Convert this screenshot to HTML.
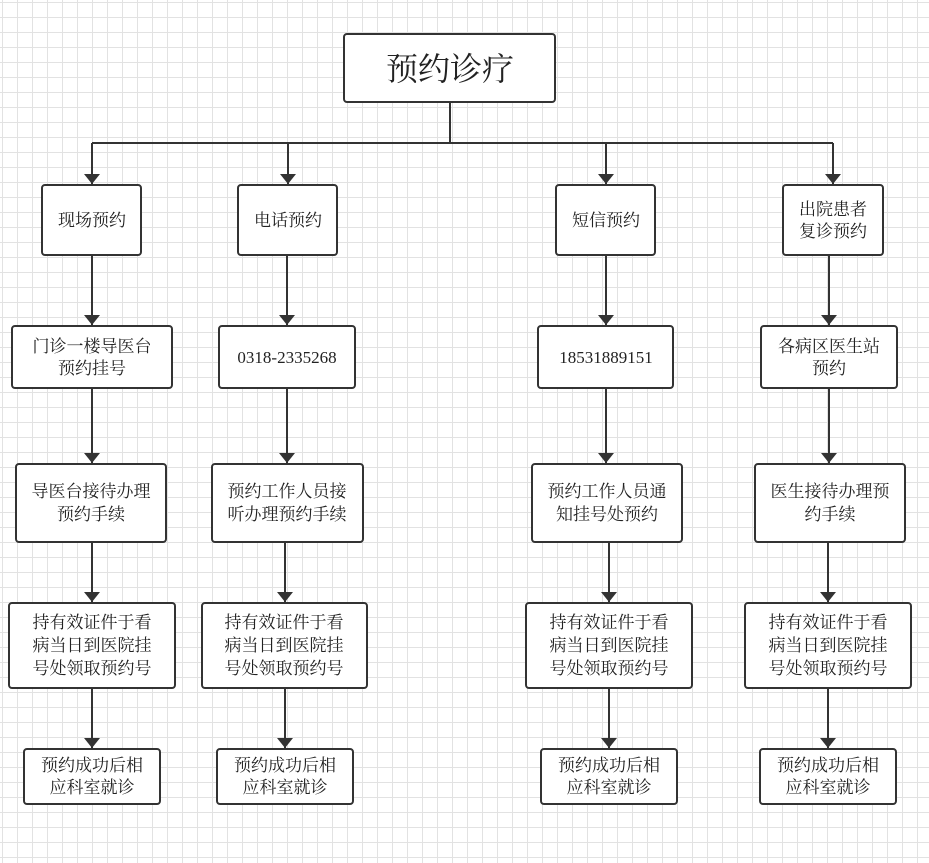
<!DOCTYPE html>
<html><head><meta charset="utf-8"><style>
html,body{margin:0;padding:0;background:#fff;}
svg{display:block}
text{font-family:"Liberation Serif","Noto Serif CJK SC",serif;fill:#222;text-anchor:middle;}
</style></head><body>
<svg width="929" height="863" viewBox="0 0 929 863" xmlns="http://www.w3.org/2000/svg">
<defs>
<pattern id="g" x="2" y="2" width="15" height="15" patternUnits="userSpaceOnUse">
<path d="M0.5 0V15M0 0.5H15" stroke="#e2e2e2" stroke-width="1" fill="none"/>
</pattern>
<marker id="a" viewBox="0 0 10 16" refX="10" refY="8" markerWidth="11" markerHeight="16" markerUnits="userSpaceOnUse" orient="auto">
<path d="M0 0L10 8L0 16Z" fill="#333"/>
</marker>
</defs>
<rect width="929" height="863" fill="url(#g)"/>
<g fill="#fff" stroke="#333" stroke-width="2">
<rect x="344" y="34" width="211" height="68" rx="3"/>
<rect x="42" y="185" width="99" height="70" rx="3"/>
<rect x="238" y="185" width="99" height="70" rx="3"/>
<rect x="556" y="185" width="99" height="70" rx="3"/>
<rect x="783" y="185" width="100" height="70" rx="3"/>
<rect x="12" y="326" width="160" height="62" rx="3"/>
<rect x="219" y="326" width="136" height="62" rx="3"/>
<rect x="538" y="326" width="135" height="62" rx="3"/>
<rect x="761" y="326" width="136" height="62" rx="3"/>
<rect x="16" y="464" width="150" height="78" rx="3"/>
<rect x="212" y="464" width="151" height="78" rx="3"/>
<rect x="532" y="464" width="150" height="78" rx="3"/>
<rect x="755" y="464" width="150" height="78" rx="3"/>
<rect x="9" y="603" width="166" height="85" rx="3"/>
<rect x="202" y="603" width="165" height="85" rx="3"/>
<rect x="526" y="603" width="166" height="85" rx="3"/>
<rect x="745" y="603" width="166" height="85" rx="3"/>
<rect x="24" y="749" width="136" height="55" rx="3"/>
<rect x="217" y="749" width="136" height="55" rx="3"/>
<rect x="541" y="749" width="136" height="55" rx="3"/>
<rect x="760" y="749" width="136" height="55" rx="3"/>
</g>
<g stroke="#333" stroke-width="2" fill="none">
<path d="M450 102V143"/>
<path d="M92 143H833"/>
<path d="M92 143V184" marker-end="url(#a)"/>
<path d="M288 143V184" marker-end="url(#a)"/>
<path d="M606 143V184" marker-end="url(#a)"/>
<path d="M833 143V184" marker-end="url(#a)"/>
<path d="M92 255V325" marker-end="url(#a)"/>
<path d="M287 255V325" marker-end="url(#a)"/>
<path d="M606 255V325" marker-end="url(#a)"/>
<path d="M829 255V325" marker-end="url(#a)"/>
<path d="M92 388V463" marker-end="url(#a)"/>
<path d="M287 388V463" marker-end="url(#a)"/>
<path d="M606 388V463" marker-end="url(#a)"/>
<path d="M829 388V463" marker-end="url(#a)"/>
<path d="M92 542V602" marker-end="url(#a)"/>
<path d="M285 542V602" marker-end="url(#a)"/>
<path d="M609 542V602" marker-end="url(#a)"/>
<path d="M828 542V602" marker-end="url(#a)"/>
<path d="M92 688V748" marker-end="url(#a)"/>
<path d="M285 688V748" marker-end="url(#a)"/>
<path d="M609 688V748" marker-end="url(#a)"/>
<path d="M828 688V748" marker-end="url(#a)"/>
</g>
<g font-size="17">
<text x="450" y="80" font-size="32">预约诊疗</text>
<text x="92" y="226">现场预约</text>
<text x="288" y="226">电话预约</text>
<text x="606" y="226">短信预约</text>
<text x="833" y="215">出院患者</text>
<text x="833" y="237">复诊预约</text>
<text x="92" y="352">门诊一楼导医台</text>
<text x="92" y="374">预约挂号</text>
<text x="287" y="363">0318-2335268</text>
<text x="606" y="363">18531889151</text>
<text x="829" y="352">各病区医生站</text>
<text x="829" y="374">预约</text>
<text x="91" y="497">导医台接待办理</text>
<text x="91" y="520">预约手续</text>
<text x="287" y="497">预约工作人员接</text>
<text x="287" y="520">听办理预约手续</text>
<text x="607" y="497">预约工作人员通</text>
<text x="607" y="520">知挂号处预约</text>
<text x="830" y="497">医生接待办理预</text>
<text x="830" y="520">约手续</text>
<text x="92" y="628">持有效证件于看</text><text x="92" y="651">病当日到医院挂</text><text x="92" y="674">号处领取预约号</text>
<text x="284" y="628">持有效证件于看</text><text x="284" y="651">病当日到医院挂</text><text x="284" y="674">号处领取预约号</text>
<text x="609" y="628">持有效证件于看</text><text x="609" y="651">病当日到医院挂</text><text x="609" y="674">号处领取预约号</text>
<text x="828" y="628">持有效证件于看</text><text x="828" y="651">病当日到医院挂</text><text x="828" y="674">号处领取预约号</text>
<text x="92" y="771">预约成功后相</text><text x="92" y="793">应科室就诊</text>
<text x="285" y="771">预约成功后相</text><text x="285" y="793">应科室就诊</text>
<text x="609" y="771">预约成功后相</text><text x="609" y="793">应科室就诊</text>
<text x="828" y="771">预约成功后相</text><text x="828" y="793">应科室就诊</text>
</g>
</svg>
</body></html>
